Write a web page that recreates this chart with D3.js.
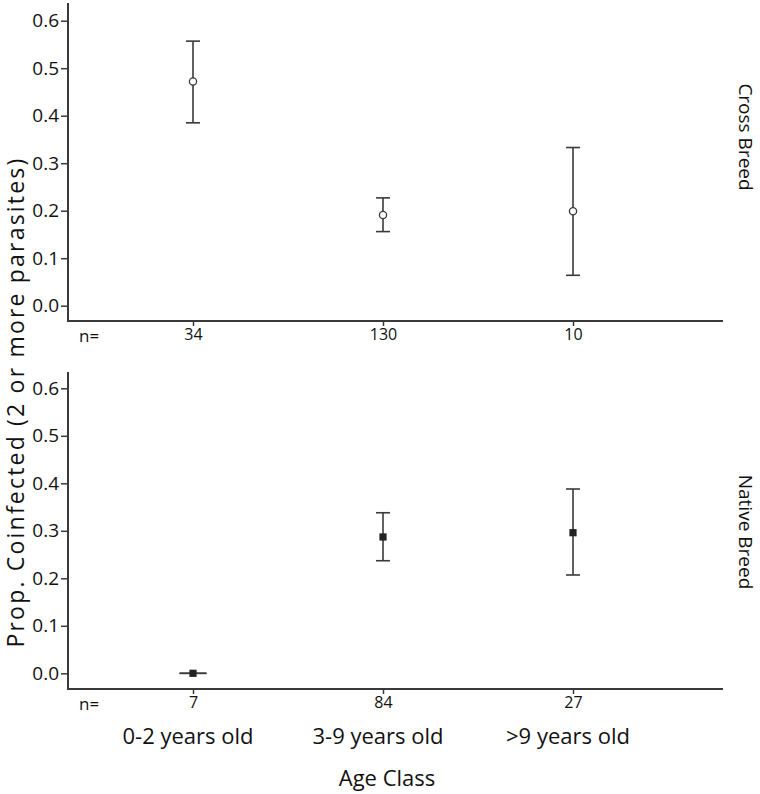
<!DOCTYPE html>
<html>
<head>
<meta charset="utf-8">
<script src="https://cdn.jsdelivr.net/npm/d3@7"></script>
<style>
  body { margin: 0; background: #fff; }
  text { font-family: "Open Sans", "Noto Sans", sans-serif; fill: #111; }
</style>
</head>
<body>
<div id="chart"></div>
<script>
// Age classes and sample sizes
const ageClasses = ['0-2 years old', '3-9 years old', '>9 years old'];
const yTicks = [0.0, 0.1, 0.2, 0.3, 0.4, 0.5, 0.6];

// Cross breed: proportion coinfected with CI
const crossMean = [0.472, 0.191, 0.199];
const crossLow  = [0.385, 0.156, 0.064];
const crossHigh = [0.557, 0.227, 0.333];
const crossN    = [34, 130, 10];

// Native breed
const nativeMean = [0.0, 0.287, 0.296];
const nativeLow  = [0.0, 0.237, 0.207];
const nativeHigh = [0.0, 0.338, 0.388];
const nativeN    = [7, 84, 27];

const width = 760, height = 794;
const svg = d3.select('#chart').append('svg')
    .attr('width', width)
    .attr('height', height);

const axisLeft = 68, axisRight = 723;
const lineColor = '#3a3a3a';

// point scale so the tick centres sit at 193, 383, 573
const x = d3.scalePoint()
    .domain(ageClasses)
    .range([193, 573]);

function drawPanel(opts) {
    const { zeroY, axisTop, axisBottom, mean, low, high, n, label, labelY, marker } = opts;
    const y = d3.scaleLinear().domain([0, 0.6]).range([zeroY, zeroY - 285]);
    const g = svg.append('g');

    // y axis
    g.append('line')
        .attr('x1', axisLeft).attr('x2', axisLeft)
        .attr('y1', axisTop).attr('y2', axisBottom)
        .attr('stroke', lineColor).attr('stroke-width', 2);
    const yAxis = d3.axisLeft(y).tickValues(yTicks).tickFormat(d3.format('.1f')).tickSize(7).tickPadding(2);
    const ya = g.append('g').attr('transform', `translate(${axisLeft},0)`).call(yAxis);
    ya.select('.domain').remove();
    ya.selectAll('.tick line').attr('stroke', lineColor).attr('stroke-width', 1.5);
    ya.selectAll('.tick text').style('font-size', '19px').attr('fill', '#111');

    // x axis
    g.append('line')
        .attr('x1', axisLeft - 1).attr('x2', axisRight)
        .attr('y1', axisBottom).attr('y2', axisBottom)
        .attr('stroke', lineColor).attr('stroke-width', 2);
    const xa = g.append('g').attr('transform', `translate(0,${axisBottom})`)
        .call(d3.axisBottom(x).tickSize(5).tickFormat((d, i) => n[i]).tickPadding(3));
    xa.select('.domain').remove();
    xa.selectAll('.tick line').attr('stroke', lineColor).attr('stroke-width', 1.5);
    xa.selectAll('.tick text').style('font-size', '16px').attr('fill', '#111');

    g.append('text')
        .attr('x', 79).attr('y', axisBottom + 21)
        .style('font-size', '17px')
        .text('n=');

    // error bars
    const cap = 7;
    const bars = g.selectAll('.err').data(ageClasses).enter().append('g').attr('class', 'err');
    bars.append('line')
        .attr('x1', d => x(d)).attr('x2', d => x(d))
        .attr('y1', (d, i) => y(low[i])).attr('y2', (d, i) => y(high[i]))
        .attr('stroke', lineColor).attr('stroke-width', 1.6);
    bars.append('line')
        .attr('x1', (d, i) => x(d) - (high[i] === low[i] ? 13.5 : cap))
        .attr('x2', (d, i) => x(d) + (high[i] === low[i] ? 13.5 : cap))
        .attr('y1', (d, i) => y(high[i])).attr('y2', (d, i) => y(high[i]))
        .attr('stroke', lineColor).attr('stroke-width', 1.6);
    bars.append('line')
        .attr('x1', (d, i) => x(d) - (high[i] === low[i] ? 13.5 : cap))
        .attr('x2', (d, i) => x(d) + (high[i] === low[i] ? 13.5 : cap))
        .attr('y1', (d, i) => y(low[i])).attr('y2', (d, i) => y(low[i]))
        .attr('stroke', lineColor).attr('stroke-width', 1.6);

    if (marker === 'circle') {
        bars.append('circle')
            .attr('cx', d => x(d)).attr('cy', (d, i) => y(mean[i]))
            .attr('r', 3.6)
            .attr('fill', '#fff').attr('stroke', lineColor).attr('stroke-width', 1.3);
    } else {
        bars.append('rect')
            .attr('x', d => x(d) - 3.6).attr('y', (d, i) => y(mean[i]) - 3.6)
            .attr('width', 7.2).attr('height', 7.2)
            .attr('fill', '#222');
    }

    // panel label on the right
    g.append('text')
        .attr('transform', `translate(739,${labelY}) rotate(90)`)
        .attr('text-anchor', 'middle')
        .style('font-size', '19px')
        .text(label);
}

drawPanel({
    zeroY: 305.7, axisTop: 3, axisBottom: 321,
    mean: crossMean, low: crossLow, high: crossHigh, n: crossN,
    label: 'Cross Breed', labelY: 137, marker: 'circle'
});

drawPanel({
    zeroY: 673.3, axisTop: 372, axisBottom: 689,
    mean: nativeMean, low: nativeLow, high: nativeHigh, n: nativeN,
    label: 'Native Breed', labelY: 532, marker: 'square'
});

// category labels under the bottom panel
svg.selectAll('.cat').data(ageClasses).enter().append('text')
    .attr('class', 'cat')
    .attr('x', d => x(d) - 5)
    .attr('y', 744)
    .attr('text-anchor', 'middle')
    .style('font-size', '22px')
    .text(d => d);

svg.append('text')
    .attr('x', 387).attr('y', 786)
    .attr('text-anchor', 'middle')
    .style('font-size', '22px')
    .text('Age Class');

svg.append('text')
    .attr('transform', 'translate(24,402) rotate(-90)')
    .attr('text-anchor', 'middle')
    .style('font-size', '23px')
    .style('letter-spacing', '2.2px')
    .text('Prop. Coinfected (2 or more parasites)');
</script>
</body>
</html>
